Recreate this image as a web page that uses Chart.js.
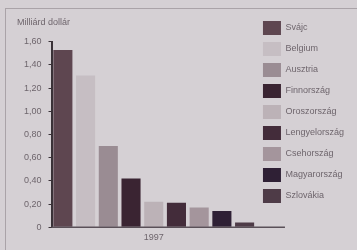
<!DOCTYPE html>
<html>
<head>
<meta charset="utf-8">
<script src="https://cdn.jsdelivr.net/npm/chart.js@4"></script>
<style>
  html, body { margin: 0; padding: 0; background: #d5d0d4; }
  #wrap { position: relative; width: 357px; height: 250px; overflow: hidden; }
  #frame { position: absolute; left: 5px; top: 8px; width: 400px; height: 300px;
           border-left: 1px solid #aaa3a8; border-top: 1px solid #aaa3a8; }
  canvas { position: absolute; left: 0; top: 0; }
</style>
</head>
<body>
<div id="wrap">
  <div id="frame"></div>
  <canvas id="chart" width="357" height="250"></canvas>
</div>
<script>
// országok és értékek (milliárd dollár, 1997)
const countries = ["Svájc", "Belgium", "Ausztria", "Finnország", "Oroszország",
                   "Lengyelország", "Csehország", "Magyarország", "Szlovákia"];
const values = [1.53, 1.31, 0.70, 0.42, 0.22, 0.21, 0.17, 0.14, 0.04];
const barColors = ["#5e4650", "#c6bec3", "#9a8c93", "#3a2432", "#bcb2b7",
                   "#432c3a", "#a4959c", "#2f2035", "#4e3b47"];
const years = ["1997"];
const yTicks = [0, 0.2, 0.4, 0.6, 0.8, 1.0, 1.2, 1.4, 1.6];

const labelColor = "#6e656c";
const font = { family: "Liberation Sans", size: 9 };

// x tengely vonala a jelmagyarázat alá is benyúlik
const longBaseline = {
  id: "longBaseline",
  afterDatasetsDraw(chart) {
    const { ctx, chartArea } = chart;
    ctx.save();
    ctx.strokeStyle = "#5a5058";
    ctx.lineWidth = 1.5;
    ctx.beginPath();
    ctx.moveTo(chartArea.left, chartArea.bottom);
    ctx.lineTo(chartArea.right + 29, chartArea.bottom);
    ctx.stroke();
    ctx.restore();
  }
};

new Chart(document.getElementById("chart"), {
  type: "bar",
  data: {
    labels: years,
    datasets: countries.map((c, i) => ({
      label: c,
      data: [values[i]],
      backgroundColor: barColors[i],
      borderWidth: 0
    }))
  },
  options: {
    responsive: false,
    animation: false,
    layout: { padding: { top: 14, left: 17, right: 3, bottom: 2 } },
    datasets: { bar: { categoryPercentage: 1.0, barPercentage: 0.84 } },
    scales: {
      x: {
        grid: { display: false, drawTicks: false },
        border: { display: false },
        ticks: { color: labelColor, font: font, padding: 5 }
      },
      y: {
        min: 0,
        max: 1.6,
        afterBuildTicks(axis) { axis.ticks = yTicks.map(v => ({ value: v })); },
        grid: { drawOnChartArea: false, tickLength: 3, color: "#3a3238" },
        border: { display: true, color: "#3a3238", width: 2 },
        ticks: {
          color: labelColor, font: font, padding: 7,
          callback: v => v === 0 ? "0" : v.toFixed(2).replace(".", ",")
        }
      }
    },
    plugins: {
      legend: {
        position: "right",
        align: "start",
        maxWidth: 140,
        labels: {
          boxWidth: 18, boxHeight: 14, padding: 7,
          color: labelColor, font: font
        }
      },
      title: {
        display: true,
        text: "Milliárd dollár",
        align: "start",
        color: labelColor,
        font: { family: "Liberation Sans", size: 9, weight: "normal" },
        padding: { top: 3, bottom: 14 }
      },
      tooltip: { enabled: false }
    }
  },
  plugins: [longBaseline]
});
</script>
</body>
</html>
